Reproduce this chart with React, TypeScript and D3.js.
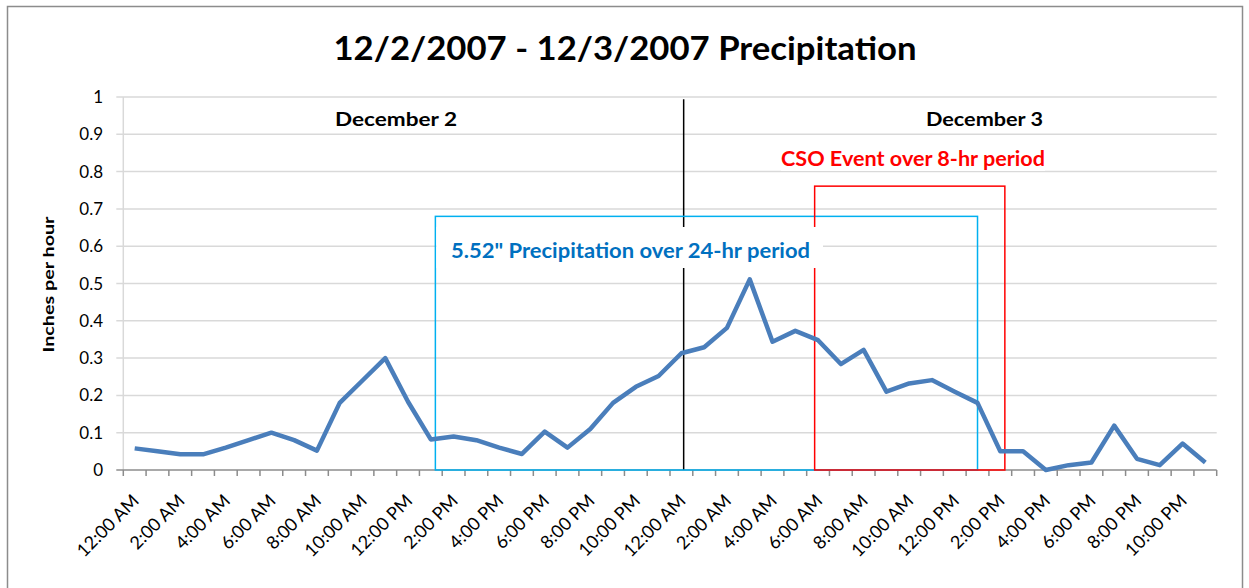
import React from 'react';
import { scaleLinear, line, range } from 'd3';

// hourly precipitation, 12:00 AM Dec 2 through 11:00 PM Dec 3 (inches per hour)
const precipitation = [
  0.058, 0.05, 0.042, 0.042, 0.06, 0.08, 0.1, 0.08, 0.052, 0.18, 0.24, 0.3,
  0.183, 0.082, 0.09, 0.08, 0.06, 0.043, 0.103, 0.06, 0.11, 0.18, 0.223, 0.252,
  0.313, 0.329, 0.381, 0.511, 0.344, 0.373, 0.348, 0.284, 0.322, 0.21, 0.232, 0.241,
  0.21, 0.18, 0.05, 0.05, 0.0, 0.013, 0.02, 0.119, 0.03, 0.013, 0.071, 0.02,
];

// one label every two hours
const tickLabels = [
  '12:00 AM', '2:00 AM', '4:00 AM', '6:00 AM', '8:00 AM', '10:00 AM',
  '12:00 PM', '2:00 PM', '4:00 PM', '6:00 PM', '8:00 PM', '10:00 PM',
  '12:00 AM', '2:00 AM', '4:00 AM', '6:00 AM', '8:00 AM', '10:00 AM',
  '12:00 PM', '2:00 PM', '4:00 PM', '6:00 PM', '8:00 PM', '10:00 PM',
];

const yTicks = [0, 0.1, 0.2, 0.3, 0.4, 0.5, 0.6, 0.7, 0.8, 0.9, 1];

// annotation boxes, in hour index / inches
const totalBox = { start: 13.2, end: 37, top: 0.68 };
const csoBox = { start: 29.85, end: 38.2, top: 0.761 };
const midnight = 24.1;

const font = 'Lato, "Open Sans", sans-serif';

const App: React.FC = () => {
  const width = 1249;
  const height = 588;
  const left = 123.3;
  const right = 1216.7;
  const top = 97;
  const bottom = 470;

  const x = scaleLinear().domain([-0.5, precipitation.length - 0.5]).range([left, right]);
  const y = scaleLinear().domain([0, 1]).range([bottom, top]);

  const path = line<number>()
    .x((_, i) => x(i))
    .y((d) => y(d))(precipitation);

  const boundaries = range(precipitation.length + 1).map((i) => x(i - 0.5));

  return (
    <svg
      width={width}
      height={height}
      style={{ position: 'absolute', left: 0, top: 0, background: '#fff' }}
      fontFamily={font}
    >
      <rect x={7.5} y={6.5} width={1235} height={600} fill="#fff" stroke="#8c8c8c" strokeWidth={1.5} />

      <text x={625} y={60} textAnchor="middle" fontSize={33} fontWeight="bold" textLength={583} lengthAdjust="spacingAndGlyphs">
        12/2/2007 - 12/3/2007 Precipitation
      </text>

      {/* grid */}
      {yTicks.map((t) => (
        <g key={t}>
          {t > 0 && (
            <line x1={left - 7} x2={right} y1={y(t)} y2={y(t)} stroke="#d9d9d9" strokeWidth={1.5} />
          )}
          <text x={103} y={y(t) + 6} textAnchor="end" fontSize={17} fill="#000">
            {t}
          </text>
        </g>
      ))}
      <line x1={left} x2={left} y1={top} y2={bottom} stroke="#d9d9d9" strokeWidth={1.5} />

      <text
        transform={`translate(54, ${(top + bottom) / 2 + 1}) rotate(-90)`}
        textAnchor="middle"
        fontSize={16}
        fontWeight="bold"
        textLength={136}
        lengthAdjust="spacingAndGlyphs"
      >
        Inches per hour
      </text>

      {/* x axis */}
      <line x1={left - 7} x2={right} y1={bottom} y2={bottom} stroke="#8c8c8c" strokeWidth={1.5} />
      {boundaries.map((bx, i) => (
        <line key={i} x1={bx} x2={bx} y1={bottom} y2={bottom + 6} stroke="#8c8c8c" strokeWidth={1.5} />
      ))}
      {tickLabels.map((label, i) => (
        <text
          key={i}
          transform={`translate(${x(i * 2) + 5.5}, ${bottom + 32}) rotate(-45)`}
          textAnchor="end"
          fontSize={18}
          fill="#000"
        >
          {label}
        </text>
      ))}

      {/* day divider */}
      <line x1={x(midnight)} x2={x(midnight)} y1={y(0.994)} y2={bottom} stroke="#000" strokeWidth={1.5} />

      {/* annotation boxes */}
      <rect
        x={x(totalBox.start)}
        y={y(totalBox.top)}
        width={x(totalBox.end) - x(totalBox.start)}
        height={bottom - y(totalBox.top)}
        fill="none"
        stroke="#00b0f0"
        strokeWidth={1.5}
      />
      <rect
        x={x(csoBox.start)}
        y={y(csoBox.top)}
        width={x(csoBox.end) - x(csoBox.start)}
        height={bottom - y(csoBox.top)}
        fill="none"
        stroke="#ff0000"
        strokeWidth={1.5}
      />

      <path d={path || ''} fill="none" stroke="#4a7ebb" strokeWidth={4.5} strokeLinejoin="round" />

      {/* labels */}
      <text x={396} y={126} textAnchor="middle" fontSize={19} fontWeight="bold" textLength={122} lengthAdjust="spacingAndGlyphs">
        December 2
      </text>
      <text x={984.5} y={126} textAnchor="middle" fontSize={19} fontWeight="bold" textLength={117} lengthAdjust="spacingAndGlyphs">
        December 3
      </text>

      <rect x={781} y={146} width={264} height={25} fill="#fff" />
      <text x={913} y={166} textAnchor="middle" fontSize={20} fontWeight="bold" fill="#ff0000" textLength={264} lengthAdjust="spacingAndGlyphs">
        CSO Event over 8-hr period
      </text>

      <rect x={x(totalBox.start) + 1} y={227} width={823 - x(totalBox.start) - 1} height={41} fill="#fff" />
      <text x={451} y={258} fontSize={20} fontWeight="bold" fill="#0070c0" textLength={359} lengthAdjust="spacingAndGlyphs">
        5.52" Precipitation over 24-hr period
      </text>
    </svg>
  );
};

export default App;
